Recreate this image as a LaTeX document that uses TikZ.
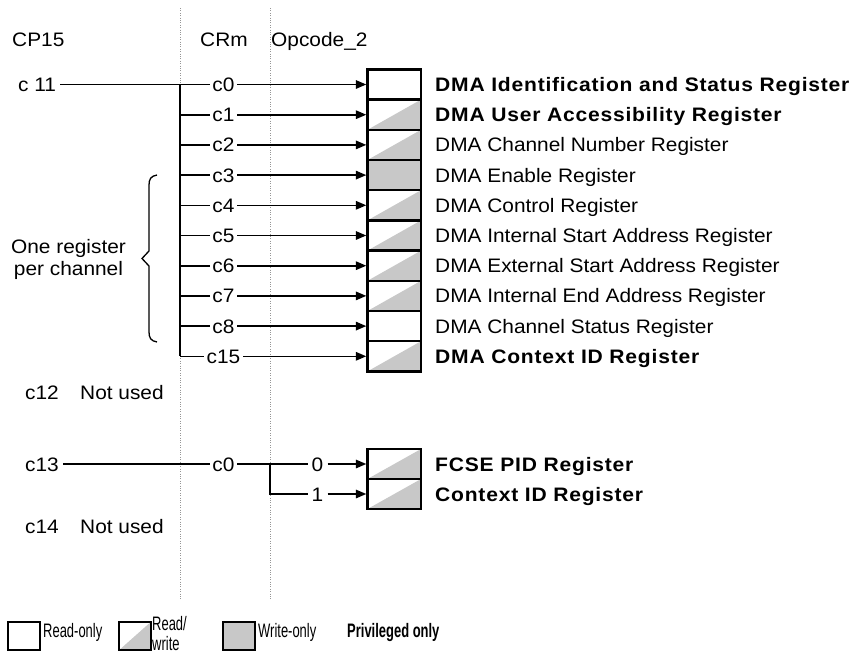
\documentclass[tikz,border=0pt]{standalone}
\usepackage{fontspec}
\setmainfont{Liberation Sans}[FakeStretch=1.07]
\newfontfamily\namefont{Liberation Sans}[FakeStretch=1.08,LetterSpace=4]
\newfontfamily\plainname{Liberation Sans}[FakeStretch=1.07]
\newfontfamily\keyfont{Liberation Sans}[FakeStretch=0.665]
\usetikzlibrary{arrows.meta}
\definecolor{shade}{RGB}{200,200,200}
\definecolor{guide}{RGB}{150,150,150}
\newcommand\bnm{\namefont\bfseries}
\newcommand\rnm{\plainname}

\begin{document}
\begin{tikzpicture}[x=1pt,y=-1pt,
  font=\fontsize{19.5}{23}\selectfont,
  txt/.style={anchor=base west, inner sep=0pt},
  lab/.style={text height=14pt, text depth=0pt, inner xsep=2.5pt, inner ysep=0pt},
  reg/.style={draw, line width=2.4pt, minimum width=53.5pt, minimum height=30.2pt, inner sep=0pt},
  ro/.style={},
  wo/.style={fill=shade},
  rw/.style={path picture={\path[fill=shade, draw=none] (path picture bounding box.south west)
      -- (path picture bounding box.north east)
      -- (path picture bounding box.south east) -- cycle;}},
  conn/.style={line width=1.6pt},
  arr/.style={conn, -{Triangle[length=10.5pt,width=8.5pt]}},
  guideline/.style={guide, line width=0.8pt, dash pattern=on 0.8pt off 1.6pt},
  keybox/.style={reg, line width=2.2pt, minimum width=32pt, minimum height=28.5pt}
]
\fill[white] (0,0) rectangle (860,656);
\useasboundingbox (0,0) rectangle (860,656);

% column guides
\draw[guideline] (180,8) -- (180,600);
\draw[guideline] (270,8) -- (270,600);

% column headings
\node[txt] (hcp) at (12,46) {CP15};
\node[txt, anchor=base] (hcrm) at (224,46) {CRm};
\node[txt] (hop) at (271,46) {Opcode\_2};

% c11: DMA registers
\node[lab, inner xsep=4pt, anchor=west] (c11) at (14,84.5) {c 11};
\foreach \n/\cl/\kind/\txt/\f [count=\k from 0] in {
  r0/c0/ro/{DMA Identification and Status Register}/\bnm,
  r1/c1/rw/{DMA User Accessibility Register}/\bnm,
  r2/c2/rw/{DMA Channel Number Register}/\rnm,
  r3/c3/wo/{DMA Enable Register}/\rnm,
  r4/c4/rw/{DMA Control Register}/\rnm,
  r5/c5/rw/{DMA Internal Start Address Register}/\rnm,
  r6/c6/rw/{DMA External Start Address Register}/\rnm,
  r7/c7/rw/{DMA Internal End Address Register}/\rnm,
  r8/c8/ro/{DMA Channel Status Register}/\rnm,
  r15/c15/rw/{DMA Context ID Register}/\bnm}{
  \pgfmathsetmacro\yy{84.5+30.2*\k}
  \coordinate (K\n) at (180,\yy);
  \node[lab] (L\n) at (223.5,\yy) {\cl};
  \node[reg,\kind] (B\n) at (394.25,\yy) {};
  \node[txt] (T\n) at (435,\yy+7) {\f\txt};
  \draw[conn] (K\n) -- (L\n);
  \draw[arr] (L\n) -- (B\n);
}
\draw[conn] (c11) -- (Lr0);
\draw[conn] (Kr0) -- (Kr15);

% brace grouping the per-channel registers
\draw[line width=1.3pt] (157,175) .. controls (151,176) and (149,179) .. (149,185)
  -- (149,251) -- (142,258.5) -- (149,266) -- (149,332)
  .. controls (149,338) and (151,341) .. (157,342);
\node[txt, anchor=base] (grp1) at (68.5,253.3) {One register};
\node[txt, anchor=base] (grp2) at (68.5,275.3) {per channel};

% c12
\node[txt] (c12) at (25,399) {c12};
\node[txt] (c12n) at (80,399) {Not used};

% c13: FCSE registers
\node[lab, inner xsep=4pt, anchor=west] (c13) at (21,464) {c13};
\node[lab] (L13) at (223.5,464) {c0};
\node[lab, inner xsep=4pt] (Z0) at (317.5,464) {0};
\node[lab, inner xsep=4pt] (Z1) at (317.5,494) {1};
\coordinate (Bq) at (270,464);
\node[reg,rw, minimum height=30pt] (F0) at (394.25,464) {};
\node[reg,rw, minimum height=30pt] (F1) at (394.25,494) {};
\node[txt] (TF0) at (435,471) {\bnm FCSE PID Register};
\node[txt] (TF1) at (435,501) {\bnm Context ID Register};
\draw[conn] (c13) -- (L13);
\draw[conn] (L13) -- (Z0);
\draw[conn] (Bq) |- (Z1);
\draw[arr] (Z0) -- (F0);
\draw[arr] (Z1) -- (F1);

% c14
\node[txt] (c14) at (25,533) {c14};
\node[txt] (c14n) at (80,533) {Not used};

% key
\node[keybox,ro] (k1) at (24,636) {};
\node[txt] (k1t) at (43,637.3) {\keyfont Read-only};
\node[keybox,rw] (k2) at (135,636) {};
\node[txt] (k2a) at (152,630.5) {\keyfont Read/};
\node[txt] (k2b) at (152,650.5) {\keyfont write};
\node[keybox,wo] (k3) at (239,636) {};
\node[txt] (k3t) at (258,637.3) {\keyfont Write-only};
\node[txt] (k4t) at (347,637.3) {\keyfont\bfseries Privileged only};
\end{tikzpicture}
\end{document}
